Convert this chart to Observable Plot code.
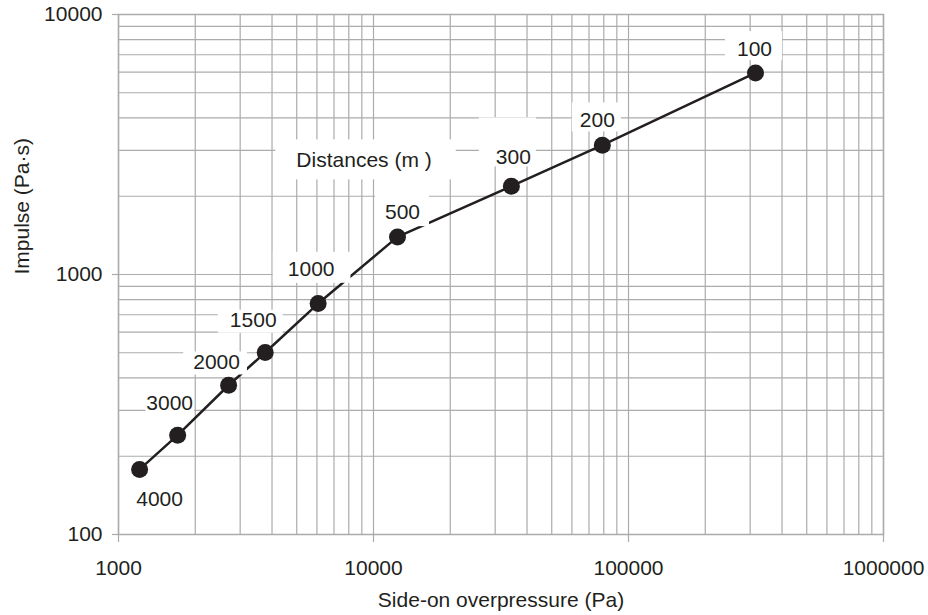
<!DOCTYPE html>
<html>
<head>
<meta charset="utf-8">
<script src="https://cdn.jsdelivr.net/npm/d3@7"></script>
<script src="https://cdn.jsdelivr.net/npm/@observablehq/plot@0.6"></script>
<style>
  body { margin: 0; background: #fff; }
  svg { display: block; }
</style>
</head>
<body>
<div id="chart"></div>
<script>
// ---- data ----
const distances    = [4000, 3000, 2000, 1500, 1000, 500, 300, 200, 100];      // m
const overpressure = [1210, 1706, 2703, 3761, 6066, 12420, 34730, 78950, 314800]; // Pa
const impulse      = [178, 241, 375, 501, 773, 1395, 2186, 3143, 5960];        // Pa·s
const xTickLabels  = [1000, 10000, 100000, 1000000];
const yTickLabels  = [100, 1000, 10000];
const annotationText = "Distances (m )";
const annotationPos  = [9180, 2752]; // [overpressure, impulse]
const xTitle = "Side-on overpressure (Pa)";
const yTitle = "Impulse (Pa·s)";

// ---- styling only: label offsets (px) and white box paddings [left, right, top, bottom] ----
const labelOffsets = [[20, 30], [-8, -32], [-12, -23], [-12, -32], [-7, -34], [5, -25], [2, -29], [-5, -25], [-1, -24]];
const boxPads = [[8, 8, 12, 12], [1, 1, 12, 9], [10, 7, 10, 13], [12, 6, 10, 13], [15, 16, 17, 14], [10, 9, 17, 15], [17, 5, 39, 10], [8, 6, 17, 12], [12, 10, 17, 12]];
const annotationPad = [21, 24, 20, 20];

const ink = "#231f20";
const gridColor = "#ababab";
const FS = 21;

const rows = distances.map((d, i) => ({distance: d, p: overpressure[i], imp: impulse[i]}));
const gridXTicks = d3.scaleLog().domain([xTickLabels[0], xTickLabels[xTickLabels.length - 1]]).ticks();
const gridYTicks = d3.scaleLog().domain([yTickLabels[0], yTickLabels[yTickLabels.length - 1]]).ticks();

const labelMarks = rows.map((r, i) => Plot.text([r], {
  x: "p", y: "imp", text: d => String(d.distance),
  dx: labelOffsets[i][0], dy: labelOffsets[i][1],
  fill: ink, fontSize: FS
}));

const chart = Plot.plot({
  width: 928,
  height: 615,
  marginLeft: 118,
  marginRight: 45,
  marginTop: 14,
  marginBottom: 81,
  style: {fontFamily: "'Liberation Sans', Arial, Helvetica, sans-serif", fontSize: FS + "px", color: ink, background: "#fff"},
  x: {type: "log", domain: [xTickLabels[0], xTickLabels[xTickLabels.length - 1]]},
  y: {type: "log", domain: [yTickLabels[0], yTickLabels[yTickLabels.length - 1]]},
  marks: [
    Plot.gridX(gridXTicks, {stroke: gridColor, strokeOpacity: 1, strokeWidth: 1.2}),
    Plot.gridY(gridYTicks, {stroke: gridColor, strokeOpacity: 1, strokeWidth: 1.2}),
    Plot.frame({stroke: gridColor, strokeWidth: 1.5}),
    Plot.axisX(xTickLabels, {tickSize: 8, tickPadding: 18, tickFormat: d => String(d), stroke: gridColor, fill: ink, label: null, strokeWidth: 1.2, fontSize: FS}),
    Plot.axisY(yTickLabels, {tickSize: 6, tickPadding: 10, tickFormat: d => String(d), stroke: gridColor, fill: ink, label: null, strokeWidth: 1.2, fontSize: FS}),
    Plot.line(rows, {x: "p", y: "imp", stroke: ink, strokeWidth: 2.5}),
    ...labelMarks,
    Plot.text([annotationText], {x: () => annotationPos[0], y: () => annotationPos[1], text: d => d, fill: ink, fontSize: FS}),
    Plot.dot(rows, {x: "p", y: "imp", r: 8.5, fill: ink, stroke: "none"}),
    Plot.text([xTitle], {frameAnchor: "bottom", dy: 72, text: d => d, fill: ink, fontSize: FS}),
    Plot.text([yTitle], {frameAnchor: "left", dx: -96, rotate: -90, text: d => d, fill: ink, fontSize: FS})
  ]
});

document.getElementById("chart").append(chart);

// white boxes behind the value labels (they mask grid and line like the reference)
const boxed = new Map(distances.map((d, i) => [String(d), boxPads[i]]));
boxed.set(annotationText, annotationPad);
chart.querySelectorAll("text").forEach(t => {
  const key = t.textContent;
  if (!boxed.has(key)) return;
  const g = t.parentNode;
  const al = (g.getAttribute && g.getAttribute("aria-label")) || "";
  if (al.includes("tick")) return;
  const [l, r, top, bottom] = boxed.get(key);
  const b = t.getBBox();
  const cy = b.y + b.height / 2;
  const rect = document.createElementNS("http://www.w3.org/2000/svg", "rect");
  const tr = t.getAttribute("transform");
  if (tr) rect.setAttribute("transform", tr);
  rect.setAttribute("x", b.x - l);
  rect.setAttribute("y", cy - top);
  rect.setAttribute("width", b.width + l + r);
  rect.setAttribute("height", top + bottom);
  rect.setAttribute("fill", "#ffffff");
  g.insertBefore(rect, t);
});
</script>
</body>
</html>
